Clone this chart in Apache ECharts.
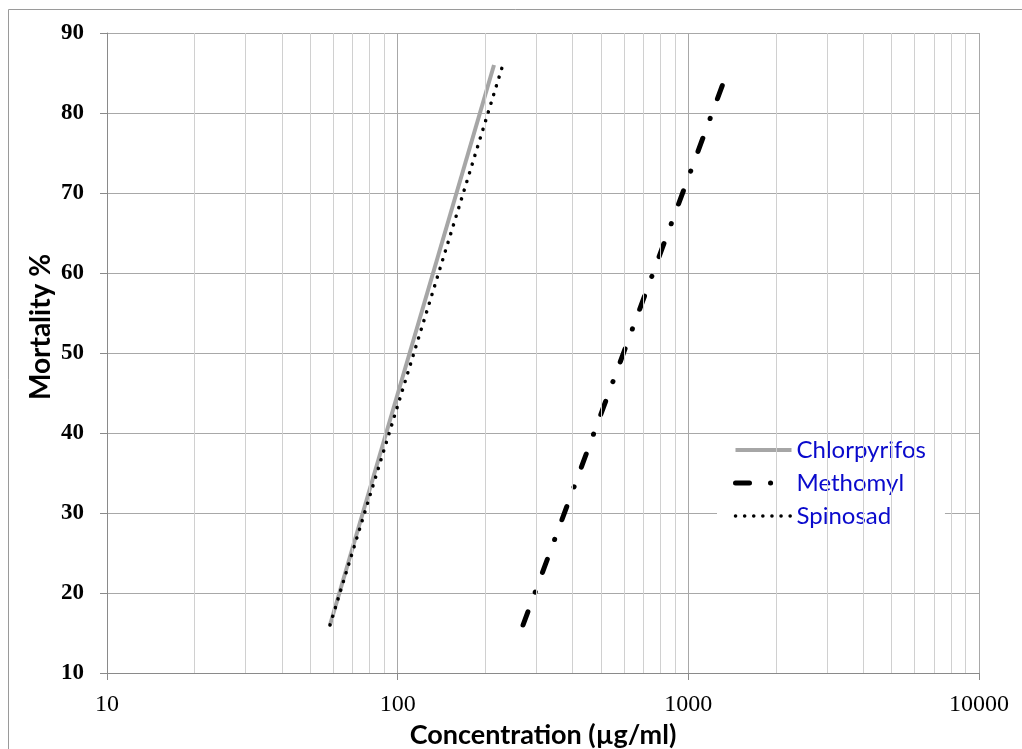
<!DOCTYPE html>
<html>
<head>
<meta charset="utf-8">
<script src="https://cdn.jsdelivr.net/npm/echarts@6/dist/echarts.min.js"></script>
<style>
  html, body { margin: 0; padding: 0; background: #ffffff; }
  #chart { width: 1022px; height: 749px; }
</style>
</head>
<body>
<div id="chart"></div>
<script>
// ---- Data ----
const seriesNames = ['Chlorpyrifos', 'Methomyl', 'Spinosad'];
const chlorpyrifosConc = [58.5, 214.5];
const chlorpyrifosMort = [16, 86];
const methomylConc = [270, 1345];
const methomylMort = [16, 84.6];
const spinosadConc = [58.5, 230];
const spinosadMort = [16, 86];
const yTicks = [10, 20, 30, 40, 50, 60, 70, 80, 90];
const xMajorTicks = [10, 100, 1000, 10000];
const xMinorGrid = [20, 30, 40, 50, 60, 70, 80, 90,
                    200, 300, 400, 500, 600, 700, 800, 900,
                    2000, 3000, 4000, 5000, 6000, 7000, 8000, 9000];

function pairs(xs, ys) { return xs.map((x, i) => [x, ys[i]]); }

const chart = echarts.init(document.getElementById('chart'), null, { renderer: 'canvas' });

const option = {
  backgroundColor: '#ffffff',
  animation: false,
  grid: { left: 107, top: 33, right: 43, bottom: 76, containLabel: false, outerBoundsMode: 'none' },
  graphic: [
    {
      type: 'rect', z: -10, silent: true,
      shape: { x: 8.5, y: 9.5, width: 1100, height: 1000 },
      style: { fill: 'none', stroke: '#9a9a9a', lineWidth: 1 }
    },
    {
      type: 'text', z: 10, silent: true,
      x: 41, y: 327, rotation: Math.PI / 2,
      style: {
        text: 'Mortality %', fill: '#000000',
        font: 'bold 28px Lato, "Open Sans", sans-serif',
        align: 'center', verticalAlign: 'middle'
      }
    }
  ],
  legend: {
    data: seriesNames,
    orient: 'vertical',
    left: 717, top: 434,
    backgroundColor: '#ffffff',
    padding: [4, 19, 5, 16],
    itemWidth: 56, itemHeight: 20, itemGap: 9,
    itemStyle: { opacity: 0 },
    lineStyle: { width: 'inherit', type: 'inherit', cap: 'inherit' },
    textStyle: { color: '#0a0acc', fontSize: 24, fontFamily: 'Lato, "Open Sans", sans-serif' },
    z: 5
  },
  xAxis: {
    type: 'log', logBase: 10, min: 10, max: 10000,
    name: 'Concentration (µg/ml)',
    nameLocation: 'middle', nameGap: 46,
    nameTextStyle: { fontSize: 27, fontWeight: 'bold', color: '#000', fontFamily: 'Lato, "Open Sans", sans-serif' },
    axisLine: { show: true, lineStyle: { color: '#8a8a8a', width: 1 } },
    axisTick: { show: true, inside: false, length: 7, lineStyle: { color: '#8a8a8a' } },
    axisLabel: {
      margin: 20, fontSize: 24, color: '#000',
      fontFamily: '"Liberation Serif", "Times New Roman", serif',
      formatter: v => String(Math.round(v))
    },
    splitLine: { show: true, lineStyle: { color: '#a8a8a8', width: 1 } },
    minorTick: { show: false },
    minorSplitLine: { show: false }
  },
  yAxis: {
    type: 'value', min: yTicks[0], max: yTicks[yTicks.length - 1], interval: 10,
    axisLine: { show: true, lineStyle: { color: '#8a8a8a', width: 1 } },
    axisTick: { show: true, inside: false, length: 7, lineStyle: { color: '#8a8a8a' } },
    axisLabel: {
      margin: 23, fontSize: 23, fontWeight: 'bold', color: '#000',
      fontFamily: '"Liberation Serif", "Times New Roman", serif'
    },
    splitLine: { show: true, lineStyle: { color: '#a8a8a8', width: 1 } }
  },
  series: [
    {
      name: '_minorGrid', type: 'line', data: [], z: 1, silent: true,
      markLine: {
        silent: true, symbol: ['none', 'none'], label: { show: false },
        lineStyle: { color: '#d0d0d0', width: 1, type: 'solid' },
        emphasis: { disabled: true },
        data: xMinorGrid.map(v => ({ xAxis: v }))
      }
    },
    {
      name: 'Chlorpyrifos', type: 'line', z: 3,
      data: pairs(chlorpyrifosConc, chlorpyrifosMort),
      showSymbol: false, symbol: 'none',
      lineStyle: { color: '#a6a6a6', width: 4, type: 'solid', cap: 'butt' },
      itemStyle: { color: '#a6a6a6' }
    },
    {
      name: 'Methomyl', type: 'line', z: 4,
      data: pairs(methomylConc, methomylMort),
      showSymbol: false, symbol: 'none',
      lineStyle: { color: '#000000', width: 5, type: [14, 21, 0.1, 21], cap: 'round' },
      itemStyle: { color: '#000000' }
    },
    {
      name: 'Spinosad', type: 'line', z: 5,
      data: pairs(spinosadConc, spinosadMort),
      showSymbol: false, symbol: 'none',
      lineStyle: { color: '#000000', width: 3.5, type: [0.1, 9], cap: 'round' },
      itemStyle: { color: '#000000' }
    }
  ]
};

chart.setOption(option);
</script>
</body>
</html>
